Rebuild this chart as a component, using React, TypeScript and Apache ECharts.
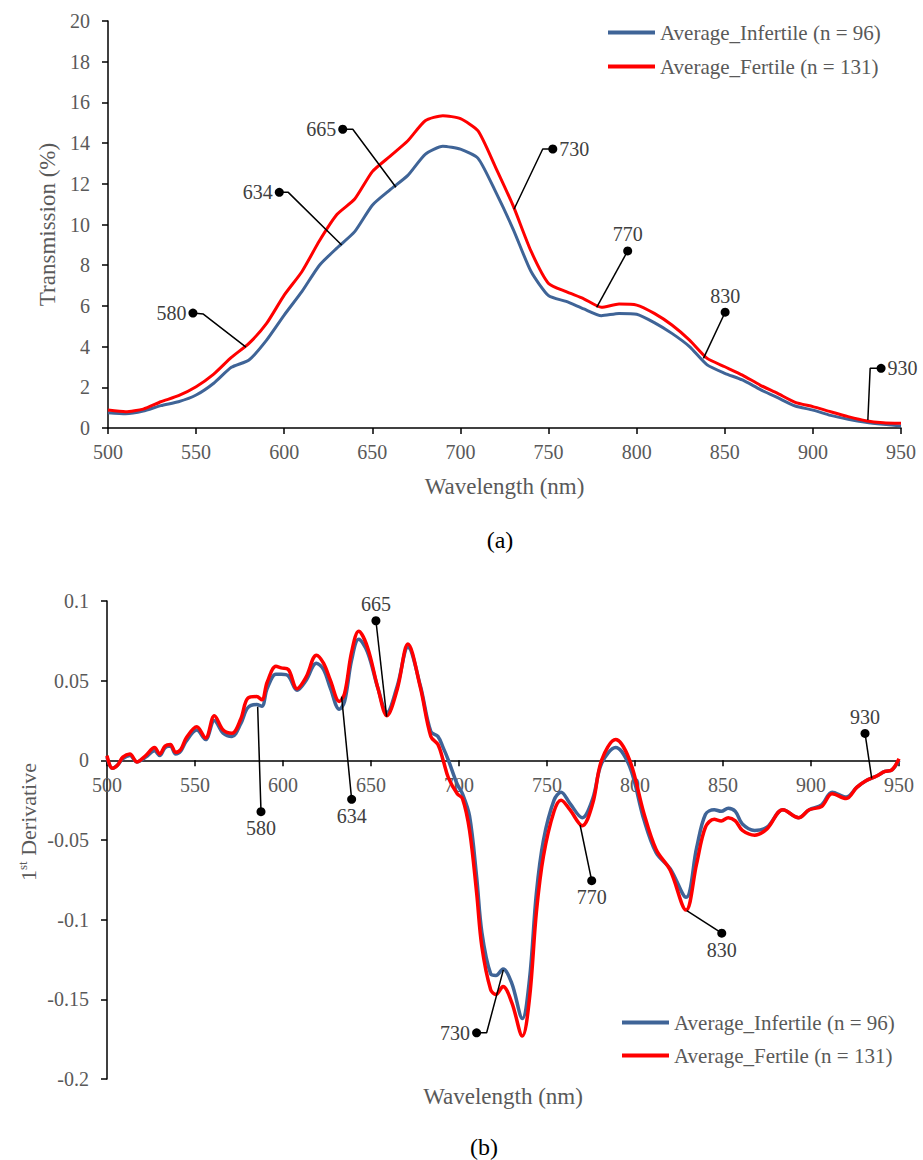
import React, { useEffect, useRef } from 'react';
import * as echarts from 'echarts';

const FONT = 'Liberation Serif';

const seriesNames = ['Average_Infertile (n = 96)', 'Average_Fertile (n = 131)'];

// (a) Transmission spectra
const transWavelengths = [500, 510, 520, 530, 540, 550, 560, 570, 580, 590, 600, 610, 620, 630, 640, 650, 660, 670, 680, 690, 700, 710, 720, 730, 740, 750, 760, 770, 780, 790, 800, 810, 820, 830, 840, 850, 860, 870, 880, 890, 900, 910, 920, 930, 940, 950];
const transInfertile = [0.75, 0.7, 0.83, 1.1, 1.29, 1.62, 2.2, 2.98, 3.34, 4.32, 5.55, 6.7, 8.0, 8.85, 9.65, 10.95, 11.7, 12.4, 13.45, 13.85, 13.7, 13.25, 11.6, 9.75, 7.7, 6.5, 6.22, 5.85, 5.52, 5.63, 5.59, 5.18, 4.65, 4.0, 3.1, 2.69, 2.36, 1.9, 1.49, 1.08, 0.88, 0.62, 0.43, 0.28, 0.18, 0.1];
const transFertile = [0.88, 0.8, 0.93, 1.29, 1.59, 2.03, 2.65, 3.47, 4.16, 5.14, 6.53, 7.68, 9.2, 10.5, 11.25, 12.6, 13.35, 14.1, 15.1, 15.35, 15.2, 14.6, 12.8, 10.9, 8.7, 7.1, 6.7, 6.35, 5.93, 6.09, 6.04, 5.63, 5.06, 4.32, 3.42, 3.01, 2.6, 2.11, 1.7, 1.26, 1.05, 0.8, 0.56, 0.36, 0.26, 0.23];

// (b) First derivative
const derivWavelengths = [500, 503, 506, 509, 513, 517, 522, 527, 530, 533, 536, 539, 542, 545, 551, 556, 561, 566, 571, 576, 580, 585, 588, 591, 596, 599, 603, 608, 613, 619, 623, 627, 632, 635, 639, 643, 648, 654, 659, 665, 671, 678, 684, 688, 691, 694, 699, 702, 706, 710, 713, 718, 721, 725, 730, 736, 740, 744, 748, 754, 758, 763, 770, 776, 781, 789, 797, 805, 812, 820, 829, 835, 840, 845, 849, 853, 857, 861, 868, 875, 884, 893, 899, 906, 912, 920, 926, 931, 937, 942, 946, 950];
const derivInfertile = [0.002, -0.005, -0.003, 0.001, 0.003, -0.001, 0.002, 0.006, 0.003, 0.008, 0.009, 0.004, 0.006, 0.012, 0.019, 0.013, 0.025, 0.017, 0.015, 0.023, 0.033, 0.035, 0.034, 0.045, 0.054, 0.054, 0.053, 0.044, 0.05, 0.061, 0.057, 0.045, 0.032, 0.037, 0.063, 0.076, 0.068, 0.045, 0.03, 0.047, 0.071, 0.047, 0.018, 0.015, 0.008, 0.0, -0.015, -0.021, -0.035, -0.073, -0.108, -0.134, -0.135, -0.131, -0.14, -0.162, -0.138, -0.083, -0.05, -0.025, -0.02, -0.027, -0.036, -0.024, -0.002, 0.008, -0.004, -0.037, -0.058, -0.068, -0.086, -0.055, -0.034, -0.031, -0.032, -0.03, -0.032, -0.04, -0.044, -0.042, -0.031, -0.036, -0.031, -0.028, -0.02, -0.023, -0.017, -0.013, -0.01, -0.007, -0.006, 0.0];
const derivFertile = [0.003, -0.005, -0.003, 0.002, 0.004, -0.001, 0.003, 0.008, 0.004, 0.009, 0.01, 0.005, 0.007, 0.014, 0.021, 0.014, 0.028, 0.019, 0.017, 0.026, 0.039, 0.04, 0.038, 0.049, 0.059, 0.058, 0.057, 0.045, 0.052, 0.066, 0.061, 0.05, 0.037, 0.042, 0.068, 0.081, 0.071, 0.045, 0.028, 0.045, 0.073, 0.046, 0.015, 0.01, 0.0, -0.011, -0.021, -0.024, -0.044, -0.083, -0.117, -0.144, -0.147, -0.142, -0.152, -0.173, -0.15, -0.095, -0.06, -0.032, -0.025, -0.031, -0.041, -0.027, 0.0, 0.013, 0.0, -0.033, -0.056, -0.069, -0.094, -0.065, -0.042, -0.037, -0.038, -0.036, -0.038, -0.044, -0.047, -0.043, -0.031, -0.036, -0.031, -0.029, -0.021, -0.024, -0.017, -0.013, -0.01, -0.007, -0.006, 0.001];

// Callouts: label text and [wavelength, value] points (dot first)
const topCalloutLabels = ['580', '634', '665', '730', '770', '830', '930'];
const topCalloutPoints = [
  [[548.2, 5.65], [554.1, 5.6], [578.3, 3.97]],
  [[597.2, 11.58], [602.3, 11.58], [632.6, 8.99]],
  [[633.2, 14.68], [638.9, 14.68], [663.4, 11.83]],
  [[752.4, 13.71], [746.7, 13.71], [730.4, 10.75]],
  [[794.9, 8.7], [777.3, 5.93]],
  [[850.2, 5.69], [837.9, 3.42]],
  [[938.7, 2.93], [932.5, 2.93], [931.2, 0.39]],
];
const topCalloutSides = ['left', 'left', 'left', 'right', 'top', 'top', 'right'];

const botCalloutLabels = ['580', '634', '665', '730', '770', '830', '930'];
const botCalloutPoints = [
  [[587.5, -0.0322], [585.6, 0.0336]],
  [[639, -0.0245], [633.3, 0.04]],
  [[652.8, 0.0876], [658.9, 0.0274]],
  [[710, -0.171], [715.7, -0.171], [725.2, -0.1315]],
  [[775.4, -0.0755], [768.8, -0.0406]],
  [[849.3, -0.1085], [829.4, -0.0943]],
  [[930.7, 0.0169], [934.5, -0.0113]],
];
const botCalloutSides = ['bottom', 'bottom', 'top', 'left', 'bottom', 'bottom', 'top'];

const derivMin = -0.2;
const derivMax = 0.1;

const BLUE = '#3F6497';
const RED = '#FF0000';
const GRAY = '#595959';

function pairs(xs: number[], ys: number[]) {
  return xs.map((x, i) => [x, ys[i]]);
}

function callout(label: string, pts: number[][], side: string, idx: number) {
  return {
    type: 'line',
    xAxisIndex: idx,
    yAxisIndex: idx,
    z: 5,
    silent: true,
    smooth: false,
    symbol: 'circle',
    symbolSize: 9,
    showAllSymbol: true,
    lineStyle: { color: '#000', width: 1.5 },
    itemStyle: { color: '#000' },
    emphasis: { disabled: true },
    data: pts.map((p, i) =>
      i === 0
        ? {
            value: p,
            label: {
              show: true,
              position: side,
              distance: 2,
              formatter: label,
              color: '#404040',
              fontSize: 20,
              fontFamily: FONT,
            },
          }
        : { value: p, symbol: 'none' }
    ),
  };
}

const tickStyle = { show: true, inside: false, length: 6, lineStyle: { color: '#000', width: 1.5 } };
const lineStyleAxis = { color: '#000', width: 1.5 };

export default function App() {
  const ref = useRef<HTMLDivElement>(null);
  useEffect(() => {
    if (!ref.current) return;
    const chart = echarts.init(ref.current, null, { renderer: 'svg' });
    const mainSeries = (idx: number, xs: number[], inf: number[], fer: number[], smooth: number, width: number) => [
      {
        name: seriesNames[0],
        type: 'line',
        xAxisIndex: idx,
        yAxisIndex: idx,
        data: pairs(xs, inf),
        symbol: 'none',
        smooth,
        lineStyle: { color: BLUE, width },
        itemStyle: { color: BLUE },
        z: 2,
      },
      {
        name: seriesNames[1],
        type: 'line',
        xAxisIndex: idx,
        yAxisIndex: idx,
        data: pairs(xs, fer),
        symbol: 'none',
        smooth,
        lineStyle: { color: RED, width },
        itemStyle: { color: RED },
        z: 3,
      },
    ];
    const legendCommon = {
      orient: 'vertical',
      data: seriesNames,
      icon: 'rect',
      itemWidth: 47,
      itemHeight: 4,
      selectedMode: false,
      textStyle: { color: GRAY, fontSize: 21, fontFamily: FONT },
    };
    const labelStyle = { color: GRAY, fontSize: 20, fontFamily: FONT };
    const nameStyle = { color: GRAY, fontSize: 23, fontFamily: FONT };
    const botGridHeight = 478;
    // raise the bottom x axis from the grid's bottom edge up to the y = 0 line
    const zeroOffset = -botGridHeight * (0 - derivMin) / (derivMax - derivMin);
    chart.setOption({
      animation: false,
      backgroundColor: '#fff',
      textStyle: { fontFamily: FONT },
      grid: [
        { left: 108, right: 22, top: 21, height: 407, outerBoundsMode: 'none', containLabel: false },
        { left: 107, right: 24, top: 601, height: botGridHeight, outerBoundsMode: 'none', containLabel: false },
      ],
      legend: [
        { ...legendCommon, left: 603, top: 17, itemGap: 13 },
        { ...legendCommon, left: 617, top: 1007, itemGap: 12 },
      ],
      xAxis: [
        {
          type: 'value',
          gridIndex: 0,
          min: 500,
          max: 950,
          interval: 50,
          axisLine: { show: true, lineStyle: lineStyleAxis },
          axisTick: tickStyle,
          splitLine: { show: false },
          axisLabel: { ...labelStyle, margin: 14 },
          name: 'Wavelength (nm)',
          nameLocation: 'middle',
          nameGap: 47,
          nameTextStyle: nameStyle,
        },
        {
          type: 'value',
          gridIndex: 1,
          min: 500,
          max: 950,
          interval: 50,
          position: 'bottom',
          offset: zeroOffset,
          axisLine: { show: true, onZero: false, lineStyle: lineStyleAxis },
          axisTick: tickStyle,
          splitLine: { show: false },
          axisLabel: { ...labelStyle, margin: 15 },
          name: 'Wavelength (nm)',
          nameLocation: 'middle',
          nameGap: 325,
          nameTextStyle: nameStyle,
        },
      ],
      yAxis: [
        {
          type: 'value',
          gridIndex: 0,
          min: 0,
          max: 20,
          interval: 2,
          axisLine: { show: true, lineStyle: lineStyleAxis },
          axisTick: tickStyle,
          splitLine: { show: false },
          axisLabel: { ...labelStyle, margin: 18 },
          name: 'Transmission (%)',
          nameLocation: 'middle',
          nameGap: 46,
          nameTextStyle: nameStyle,
        },
        {
          type: 'value',
          gridIndex: 1,
          min: derivMin,
          max: derivMax,
          interval: 0.05,
          axisLine: { show: true, onZero: false, lineStyle: lineStyleAxis },
          axisTick: tickStyle,
          splitLine: { show: false },
          axisLabel: { ...labelStyle, margin: 18 },
        },
      ],
      graphic: [
        {
          type: 'text',
          x: 500,
          y: 540,
          style: { text: '(a)', fill: '#000', fontSize: 24, fontFamily: FONT, align: 'center', verticalAlign: 'middle' },
        },
        {
          type: 'text',
          x: 484,
          y: 1147,
          style: { text: '(b)', fill: '#000', fontSize: 24, fontFamily: FONT, align: 'center', verticalAlign: 'middle' },
        },
        {
          type: 'text',
          x: 28,
          y: 822,
          rotation: Math.PI / 2,
          style: {
            text: '{n|1}{s|st}{n| Derivative}',
            align: 'center',
            verticalAlign: 'middle',
            rich: {
              n: { fill: GRAY, fontSize: 22, fontFamily: FONT, lineHeight: 24 },
              s: { fill: GRAY, fontSize: 13, fontFamily: FONT, verticalAlign: 'top', lineHeight: 24 },
            },
          },
        },
      ],
      series: [
        ...mainSeries(0, transWavelengths, transInfertile, transFertile, 0.2, 3),
        ...mainSeries(1, derivWavelengths, derivInfertile, derivFertile, 0.35, 3.5),
        ...topCalloutLabels.map((l, i) => callout(l, topCalloutPoints[i], topCalloutSides[i], 0)),
        ...botCalloutLabels.map((l, i) => callout(l, botCalloutPoints[i], botCalloutSides[i], 1)),
      ],
    });
    return () => chart.dispose();
  }, []);
  return (
    <div
      ref={ref}
      style={{ position: 'absolute', left: 0, top: 0, width: 923, height: 1160, background: '#fff' }}
    />
  );
}
